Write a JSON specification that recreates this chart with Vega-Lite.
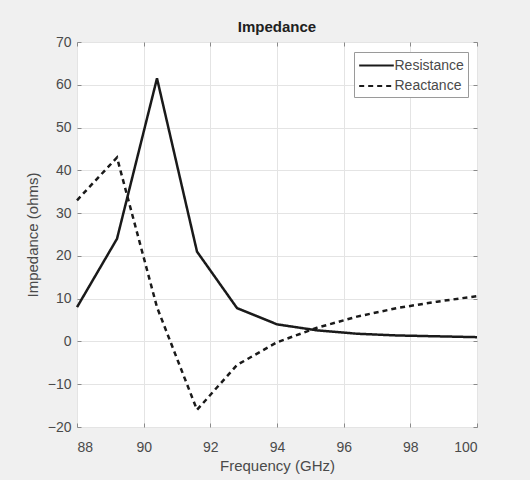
{
  "$schema": "https://vega.github.io/schema/vega-lite/v6.json",
  "width": 400,
  "height": 385,
  "autosize": {"type": "none"},
  "padding": {"left": 77, "top": 42, "right": 53, "bottom": 53},
  "background": "#f0f0f0",
  "config": {
    "font": "Liberation Sans",
    "view": {"fill": "white", "stroke": "#9a9a9a", "strokeWidth": 1},
    "axis": {
      "labelColor": "#4a4a4a",
      "titleColor": "#4a4a4a",
      "labelFontSize": 14,
      "titleFontSize": 15,
      "titleFontWeight": "normal",
      "gridColor": "#e4e4e4",
      "gridWidth": 1,
      "domain": false,
      "tickColor": "#8a8a8a",
      "tickSize": -4
    }
  },
  "title": {"text": "Impedance", "fontSize": 15, "fontWeight": "bold", "color": "#202020", "offset": 0, "frame": "group", "font": "Liberation Sans"},
  "data": {
    "values": [
      {"f": 88, "v": 8, "s": "Resistance"},
      {"f": 89.2, "v": 24, "s": "Resistance"},
      {"f": 90.4, "v": 61.5, "s": "Resistance"},
      {"f": 91.6, "v": 21, "s": "Resistance"},
      {"f": 92.8, "v": 7.8, "s": "Resistance"},
      {"f": 94, "v": 4, "s": "Resistance"},
      {"f": 95.2, "v": 2.6, "s": "Resistance"},
      {"f": 96.4, "v": 1.8, "s": "Resistance"},
      {"f": 97.6, "v": 1.4, "s": "Resistance"},
      {"f": 98.8, "v": 1.2, "s": "Resistance"},
      {"f": 100, "v": 1.0, "s": "Resistance"},
      {"f": 88, "v": 33, "s": "Reactance"},
      {"f": 89.2, "v": 43, "s": "Reactance"},
      {"f": 90.4, "v": 8, "s": "Reactance"},
      {"f": 91.6, "v": -16, "s": "Reactance"},
      {"f": 92.8, "v": -5.5, "s": "Reactance"},
      {"f": 94, "v": -0.2, "s": "Reactance"},
      {"f": 95.2, "v": 3.2, "s": "Reactance"},
      {"f": 96.4, "v": 5.8, "s": "Reactance"},
      {"f": 97.6, "v": 7.8, "s": "Reactance"},
      {"f": 98.8, "v": 9.3, "s": "Reactance"},
      {"f": 100, "v": 10.6, "s": "Reactance"}
    ]
  },
  "resolve": {"axis": {"x": "independent", "y": "independent"}},
  "layer": [
    {
      "mark": {"type": "line", "color": "#1a1a1a", "strokeWidth": 2.5},
      "encoding": {
        "x": {
          "field": "f", "type": "quantitative",
          "scale": {"domain": [88, 100], "nice": false, "zero": false},
          "axis": {"values": [88, 90, 92, 94, 96, 98, 100], "title": "Frequency (GHz)", "titlePadding": 4, "labelPadding": 17}
        },
        "y": {
          "field": "v", "type": "quantitative",
          "scale": {"domain": [-20, 70], "nice": false, "zero": false},
          "axis": {"values": [-20, -10, 0, 10, 20, 30, 40, 50, 60, 70], "title": "Impedance (ohms)", "titlePadding": 7, "labelPadding": 10}
        },
        "strokeDash": {
          "field": "s", "type": "nominal",
          "scale": {"domain": ["Resistance", "Reactance"], "range": [[1, 0], [5, 4]]},
          "legend": {
            "title": null,
            "orient": "none",
            "legendX": 277,
            "legendY": 10,
            "symbolType": "M-2,0H2",
            "symbolStrokeColor": "#1a1a1a",
            "symbolStrokeWidth": 2,
            "symbolSize": 300,
            "symbolOffset": 9,
            "labelFontSize": 14,
            "labelColor": "#4a4a4a",
            "labelOffset": 8,
            "fillColor": "white",
            "strokeColor": "#9a9a9a",
            "padding": 3.5,
            "rowPadding": 3.5
          }
        }
      }
    },
    {
      "mark": {"type": "line", "opacity": 0},
      "encoding": {
        "x": {
          "field": "f", "type": "quantitative",
          "axis": {"orient": "top", "values": [88, 90, 92, 94, 96, 98, 100], "labels": false, "grid": false, "title": null}
        },
        "y": {
          "field": "v", "type": "quantitative",
          "axis": {"orient": "right", "values": [-20, -10, 0, 10, 20, 30, 40, 50, 60, 70], "labels": false, "grid": false, "title": null}
        },
        "detail": {"field": "s"}
      }
    }
  ]
}
